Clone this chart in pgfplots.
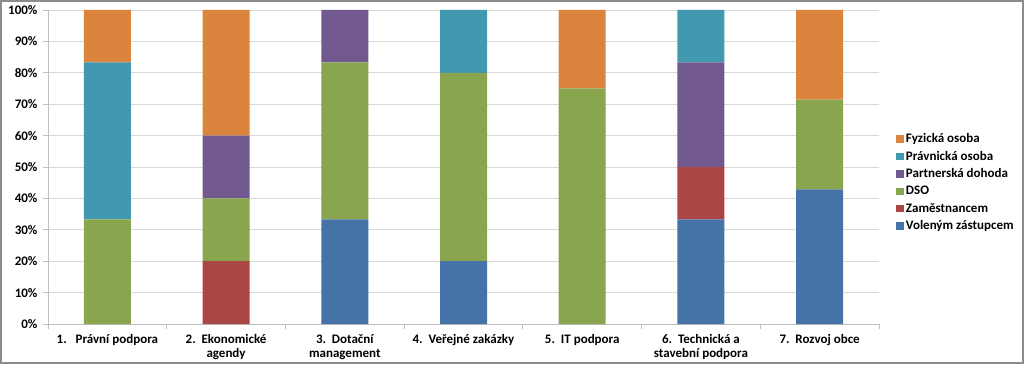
\documentclass[border=0pt]{standalone}
\usepackage{pgfplots}
\pgfplotsset{compat=1.18}
\usepackage{fontspec}
\setmainfont{Carlito}
\definecolor{cBlue}{HTML}{4572A7}
\definecolor{cRed}{HTML}{AA4643}
\definecolor{cGreen}{HTML}{89A54E}
\definecolor{cPurple}{HTML}{71588F}
\definecolor{cTeal}{HTML}{4198AF}
\definecolor{cOrange}{HTML}{DB843D}
\definecolor{cGrid}{HTML}{D9D9D9}
\definecolor{cAxis}{HTML}{BFBFBF}
\definecolor{cFrame}{HTML}{8C8C8C}
\begin{document}
\begin{tikzpicture}[x=1pt,y=1pt]
\useasboundingbox (0,0) rectangle (1024,364);
\draw[cFrame, line width=1.6pt] (0.8,0.8) rectangle (1023.2,363.2);
\begin{axis}[
  at={(48pt,40pt)}, anchor=south west,
  scale only axis, width=831pt, height=314pt,
  ybar stacked, bar width=47pt,
  xmin=-0.5, xmax=6.5, ymin=0, ymax=100,
  axis lines=left, axis line style={-, cAxis, line width=0.8pt},
  ymajorgrids, grid style={cGrid, line width=0.7pt},
  ytick={0,10,...,100},
  yticklabels={0\%,10\%,20\%,30\%,40\%,50\%,60\%,70\%,80\%,90\%,100\%},
  xtick={0,...,6},
  xticklabels={{1.\ \ \ Právní podpora},{2.\ \ Ekonomické\\agendy},{3.\ \ Dotační\\management},{4.\ \ Veřejné zakázky},{5.\ \ IT podpora},{6.\ \ Technická a\\stavební podpora},{7.\ \ Rozvoj obce}},
  xticklabel style={align=center, font=\bfseries\fontsize{13}{14}\selectfont, yshift=-2pt},
  yticklabel style={font=\bfseries\fontsize{13}{14}\selectfont, xshift=-2pt},
  major x tick style={draw=none},
  minor xtick={-0.5,0.5,...,6.5},
  minor x tick style={cAxis, line width=0.8pt},
  minor tick length=5pt,
  major tick length=5pt,
  y tick style={cAxis, line width=0.8pt},
  tick align=outside,
  tick pos=left,
  reverse legend,
  legend style={at={(1.017,0.62)}, anchor=north west, draw=none, fill=none,
    font=\bfseries\fontsize{13}{14}\selectfont, row sep=3pt,
    legend cell align=left},
  legend image code/.code={\fill[#1] (0pt,-3.8pt) rectangle (7.6pt,3.8pt);},
]
\addplot[fill=cBlue, draw=none] coordinates {(0,0) (1,0) (2,33.33) (3,20) (4,0) (5,33.33) (6,42.86)};
\addplot[fill=cRed, draw=none] coordinates {(0,0) (1,20) (2,0) (3,0) (4,0) (5,16.67) (6,0)};
\addplot[fill=cGreen, draw=none] coordinates {(0,33.33) (1,20) (2,50) (3,60) (4,75) (5,0) (6,28.57)};
\addplot[fill=cPurple, draw=none] coordinates {(0,0) (1,20) (2,16.67) (3,0) (4,0) (5,33.33) (6,0)};
\addplot[fill=cTeal, draw=none] coordinates {(0,50) (1,0) (2,0) (3,20) (4,0) (5,16.67) (6,0)};
\addplot[fill=cOrange, draw=none] coordinates {(0,16.67) (1,40) (2,0) (3,0) (4,25) (5,0) (6,28.57)};
\legend{Voleným zástupcem,Zaměstnancem,DSO,Partnerská dohoda,Právnická osoba,Fyzická osoba}
\end{axis}
\end{tikzpicture}
\end{document}
